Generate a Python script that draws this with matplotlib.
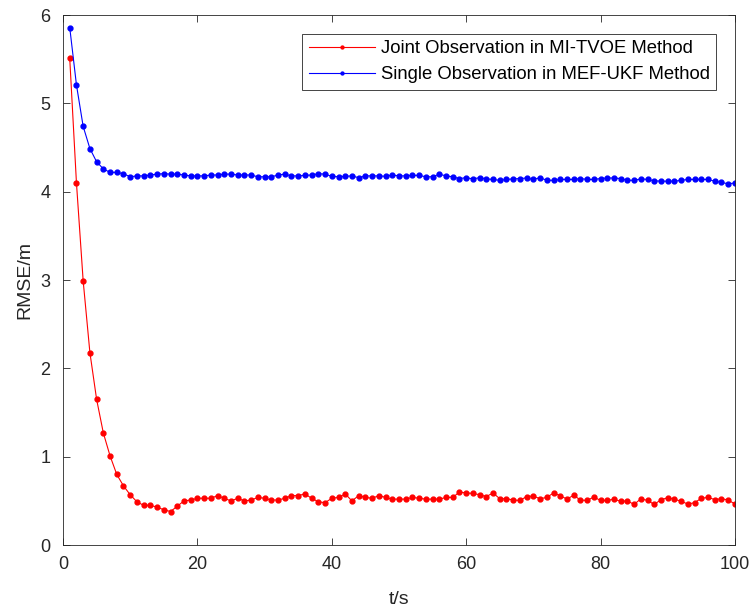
import matplotlib

matplotlib.use("Agg")

import matplotlib.pyplot as plt
import numpy as np

plt.rcParams["font.family"] = ["Liberation Sans", "DejaVu Sans"]

# time steps and RMSE values
t = np.arange(1, 101)

rmse_joint = [
    5.51, 4.10, 2.99, 2.18, 1.65, 1.27, 1.01, 0.80, 0.67, 0.57,
    0.49, 0.45, 0.45, 0.43, 0.40, 0.38, 0.44, 0.50, 0.51, 0.53,
    0.53, 0.53, 0.56, 0.53, 0.50, 0.53, 0.50, 0.51, 0.54, 0.53,
    0.51, 0.51, 0.53, 0.56, 0.56, 0.58, 0.53, 0.49, 0.48, 0.53,
    0.54, 0.58, 0.50, 0.56, 0.54, 0.53, 0.56, 0.54, 0.52, 0.52,
    0.52, 0.54, 0.53, 0.52, 0.52, 0.52, 0.54, 0.54, 0.60, 0.59,
    0.585, 0.57, 0.55, 0.59, 0.525, 0.525, 0.51, 0.505, 0.55, 0.555,
    0.525, 0.54, 0.59, 0.56, 0.52, 0.565, 0.51, 0.505, 0.545, 0.505,
    0.505, 0.52, 0.495, 0.50, 0.46, 0.525, 0.505, 0.46, 0.515, 0.535,
    0.52, 0.495, 0.465, 0.48, 0.53, 0.54, 0.515, 0.525, 0.51, 0.465,
]

rmse_single = [
    5.86, 5.21, 4.74, 4.49, 4.34, 4.26, 4.22, 4.22, 4.205, 4.17,
    4.18, 4.18, 4.19, 4.20, 4.205, 4.20, 4.20, 4.19, 4.18, 4.18,
    4.18, 4.19, 4.19, 4.20, 4.20, 4.19, 4.19, 4.19, 4.17, 4.17,
    4.17, 4.19, 4.20, 4.18, 4.18, 4.186, 4.19, 4.205, 4.20, 4.175,
    4.17, 4.175, 4.18, 4.16, 4.18, 4.18, 4.18, 4.175, 4.19, 4.18,
    4.18, 4.186, 4.186, 4.17, 4.17, 4.20, 4.18, 4.17, 4.15, 4.16,
    4.146, 4.16, 4.146, 4.14, 4.13, 4.14, 4.146, 4.15, 4.156, 4.14,
    4.16, 4.13, 4.13, 4.14, 4.14, 4.14, 4.15, 4.14, 4.14, 4.15,
    4.156, 4.156, 4.15, 4.13, 4.13, 4.146, 4.14, 4.125, 4.12, 4.12,
    4.12, 4.13, 4.14, 4.14, 4.14, 4.14, 4.12, 4.107, 4.09, 4.10,
]

labels = ["Joint Observation in MI-TVOE Method",
          "Single Observation in MEF-UKF Method"]

fig = plt.figure(figsize=(7.52, 6.07), dpi=100)
ax = fig.add_axes([0.0838, 0.102, 0.8935, 0.873])

ax.plot(t, rmse_joint, color="red", marker=".", markersize=7, linewidth=0.8,
        label=labels[0])
ax.plot(t, rmse_single, color="blue", marker=".", markersize=7, linewidth=0.8,
        label=labels[1])

ax.set_xlim(0, 100)
ax.set_ylim(0, 6)
ax.set_xticks(np.arange(0, 101, 20))
ax.set_yticks(np.arange(0, 7, 1))
ax.tick_params(direction="in", top=True, right=True, labelsize=13,
               colors="0.15", length=5, width=0.6)
ax.tick_params(axis="x", pad=8)
ax.tick_params(axis="y", pad=9)
for sp in ax.spines.values():
    sp.set_color("0.15")
    sp.set_linewidth(0.6)

ax.set_xlabel("t/s", fontsize=14, color="0.15", labelpad=13)
ax.set_ylabel("RMSE/m", fontsize=14, color="0.15", labelpad=5)

leg = ax.legend(loc="upper right", fontsize=13.3, fancybox=False, framealpha=1,
                edgecolor="0.15", borderaxespad=1.0, handlelength=3.6,
                markerscale=0.6, borderpad=0.35, labelspacing=0.5,
                handletextpad=0.3)
leg.get_frame().set_linewidth(0.6)

fig.savefig("out.png", dpi=100)
